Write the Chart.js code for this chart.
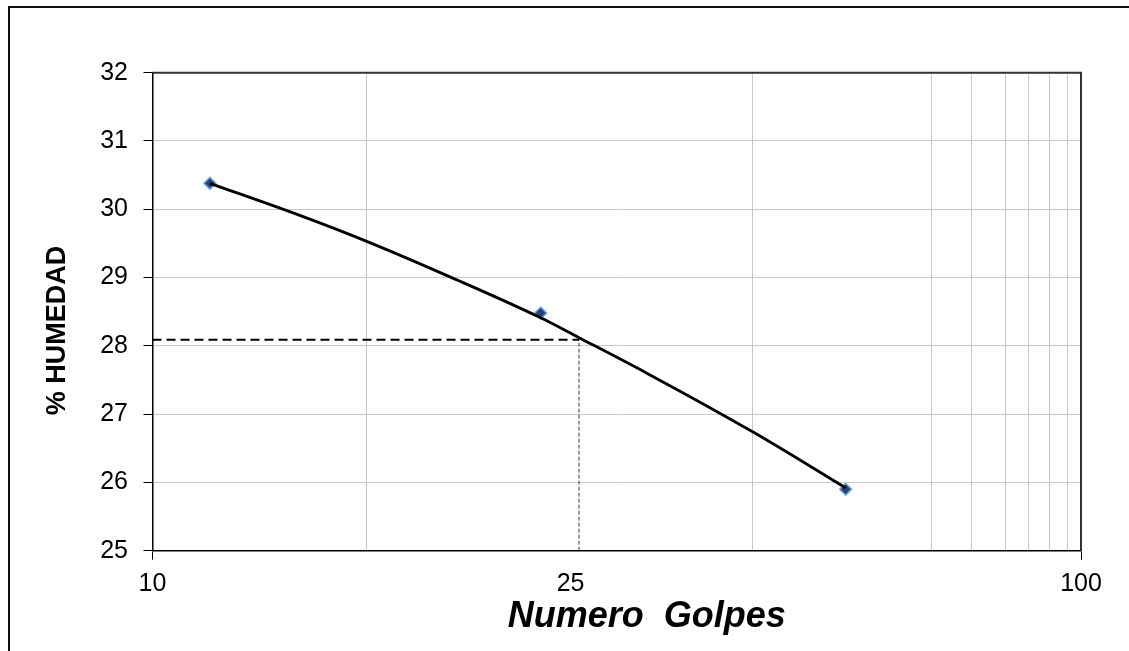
<!DOCTYPE html>
<html><head><meta charset="utf-8">
<script src="https://cdn.jsdelivr.net/npm/chart.js@4.4.0/dist/chart.umd.min.js"></script>
<style>
html,body{margin:0;padding:0;background:#fff;}
#wrap{position:relative;width:1129px;height:651px;overflow:hidden;background:#fff;}
#frame{position:absolute;left:8px;top:6px;right:-10px;bottom:-10px;border-left:2px solid #111;border-top:2px solid #111;}
canvas{position:absolute;left:0;top:0;}
</style></head><body>
<div id="wrap"><div id="frame"></div><canvas id="c" width="1129" height="651"></canvas></div>
<script>
// ---- data ----
const golpes   = [11.53, 26.19, 55.79];          // Numero de golpes (x)
const humedad  = [30.38, 28.48, 25.90];          // % humedad (y)
const trendX   = [11.53, 14.41, 17.01, 20.91, 26.19, 28.80, 34.07, 44.44, 55.79];
const trendY   = [30.38, 29.91, 29.53, 29.01, 28.41, 28.12, 27.60, 26.73, 25.92];
const llX      = 28.8;     // position of the dashed reference line on the x axis
const llY      = 28.09;    // liquid-limit humidity
const xGridValues  = [17.0, 44.3, 69.1, 76.3, 83.0, 87.9, 92.4, 96.6];
const xLabelValues = [10, 28.2, 100];
const xLabelTexts  = ['10', '25', '100'];
const yMin = 25, yMax = 32;

const FONT = "'Liberation Sans', Arial, sans-serif";
const xTicks = [...new Set([...xLabelValues, ...xGridValues])].sort((a,b)=>a-b);

const toPts = (xs, ys) => xs.map((x,i)=>({x, y: ys[i]}));

const frame = {
  id: 'frame',
  afterDraw(chart) {
    const {ctx, chartArea: a} = chart;
    ctx.save();
    ctx.strokeStyle = '#333';
    ctx.lineWidth = 2;
    ctx.beginPath();
    ctx.moveTo(a.left, a.top);
    ctx.lineTo(a.right, a.top);
    ctx.lineTo(a.right, a.bottom);
    ctx.stroke();
    ctx.restore();
  }
};

new Chart(document.getElementById('c'), {
  type: 'scatter',
  data: {
    datasets: [
      { label: 'trend', data: toPts(trendX, trendY), showLine: true, borderColor: '#000', borderWidth: 2.8,
        pointRadius: 0, tension: 0.4, cubicInterpolationMode: 'monotone', order: 0 },
      { label: 'puntos', data: toPts(golpes, humedad), showLine: false, pointStyle: 'rectRot', pointRadius: 6,
        backgroundColor: '#24457a', borderColor: '#7aa7dd', borderWidth: 1.5, order: 1 },
      { label: 'h', data: [{x: 10, y: llY}, {x: llX, y: llY}], showLine: true, borderColor: '#000', borderWidth: 2,
        borderDash: [9, 5], pointRadius: 0, order: 2 },
      { label: 'v', data: [{x: llX, y: yMin}, {x: llX, y: llY}], showLine: true, borderColor: '#3f3f22', borderWidth: 1,
        borderDash: [4, 2], pointRadius: 0, order: 2 }
    ]
  },
  options: {
    responsive: false,
    animation: false,
    devicePixelRatio: 1,
    layout: { padding: { left: 0, right: 48, top: 72.7, bottom: 0 } },
    plugins: { legend: { display: false }, tooltip: { enabled: false } },
    scales: {
      x: {
        type: 'logarithmic', position: 'bottom', min: 10, max: 100,
        afterBuildTicks: s => { s.ticks = xTicks.map(v => ({ value: v })); },
        afterFit: s => { s.height = 100.3; },
        ticks: {
          autoSkip: false, maxRotation: 0, minRotation: 0, padding: 9, color: '#000',
          font: { family: FONT, size: 25 },
          callback: (v) => { const i = xLabelValues.indexOf(v); return i >= 0 ? xLabelTexts[i] : ''; }
        },
        grid: {
          color: c => (c.tick && xGridValues.includes(c.tick.value)) ? '#c8c8c8' : 'rgba(0,0,0,0)',
          tickColor: c => (c.tick && (c.tick.value === 10 || c.tick.value === 100)) ? '#000' : 'rgba(0,0,0,0)',
          tickLength: 9, lineWidth: 1
        },
        border: { color: '#000', width: 1.5 },
        title: { display: true, text: '      Numero  Golpes', color: '#000',
          font: { family: FONT, size: 36, weight: 'bold', style: 'italic' }, padding: { top: 0, bottom: 12 } }
      },
      y: {
        type: 'linear', min: yMin, max: yMax,
        afterFit: s => { s.width = 152.5; },
        ticks: { stepSize: 1, padding: 15.5, color: '#000', font: { family: FONT, size: 25 } },
        grid: { color: '#c8c8c8', tickColor: '#000', tickLength: 9, lineWidth: 1 },
        border: { color: '#000', width: 1.5 },
        title: { display: true, text: '% HUMEDAD     ', color: '#000',
          font: { family: FONT, size: 27, weight: 'bold' }, padding: { top: 41, bottom: 0 } }
      }
    }
  },
  plugins: [frame]
});
</script>
</body></html>
